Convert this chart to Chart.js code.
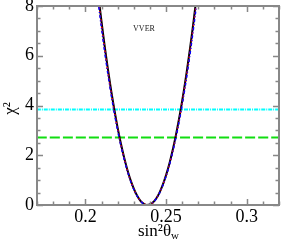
<!DOCTYPE html>
<html>
<head>
<meta charset="utf-8">
<script src="https://cdn.jsdelivr.net/npm/chart.js@4.4.1/dist/chart.umd.min.js"></script>
<style>
  html, body { margin: 0; padding: 0; background: #fff; }
  #wrap { width: 283px; height: 241px; }
</style>
</head>
<body>
<div id="wrap"><canvas id="chart"></canvas></div>
<script>
// values
const sinVals = [0.206, 0.208, 0.210, 0.212, 0.214, 0.216, 0.218, 0.220, 0.222, 0.224, 0.226,
  0.228, 0.230, 0.232, 0.234, 0.236, 0.238, 0.240, 0.242, 0.244, 0.246, 0.248, 0.250,
  0.252, 0.254, 0.256, 0.258, 0.260, 0.262, 0.264, 0.266, 0.268, 0.270];
const chiBlack = [9.58, 8.44, 7.37, 6.37, 5.44, 4.59, 3.81, 3.10, 2.47, 1.91, 1.42, 1.00, 0.66,
  0.38, 0.18, 0.06, 0.00, 0.02, 0.11, 0.27, 0.51, 0.82, 1.20, 1.65, 2.18, 2.78, 3.45, 4.19,
  5.01, 5.90, 6.86, 7.89, 9.00];
const chiRed = [9.39, 8.27, 7.22, 6.24, 5.33, 4.50, 3.73, 3.04, 2.42, 1.87, 1.39, 0.98, 0.64,
  0.37, 0.18, 0.06, 0.00, 0.02, 0.11, 0.27, 0.50, 0.80, 1.18, 1.62, 2.14, 2.72, 3.38, 4.11,
  4.91, 5.78, 6.72, 7.73, 8.82];
const chiBlue = [9.23, 8.13, 7.10, 6.13, 5.24, 4.42, 3.67, 2.99, 2.38, 1.84, 1.37, 0.96, 0.63,
  0.37, 0.18, 0.05, 0.00, 0.02, 0.11, 0.26, 0.49, 0.79, 1.16, 1.59, 2.10, 2.68, 3.32, 4.03,
  4.82, 5.68, 6.61, 7.60, 8.67];
const cl95 = 3.84;
const cl90 = 2.71;

const xTicks = [0.2, 0.25, 0.3];
const yTicks = [0, 2, 4, 6, 8];
const xMin = 0.17, xMax = 0.32, xMinor = 0.01;
const yMin = 0, yMax = 8, yMinor = 0.5;
const label = "VVER";

const pts = ys => sinVals.map((x, i) => ({ x: x, y: ys[i] }));
const flat = v => [{ x: xMin, y: v }, { x: xMax, y: v }];

const serif = '"Liberation Serif", "DejaVu Serif", serif';
const frameColor = "#888";

// frame, inward ticks, titles and the label
const decor = {
  id: "decor",
  afterDraw(chart) {
    const ctx = chart.ctx;
    const a = chart.chartArea;
    const sx = chart.scales.x, sy = chart.scales.y;
    ctx.save();
    ctx.strokeStyle = frameColor;
    ctx.lineWidth = 1.5;
    for (let v = xMin; v <= xMax + 1e-9; v += xMinor) {
      const major = xTicks.some(t => Math.abs(t - v) < 1e-6);
      const len = major ? 6 : 3.5;
      const px = Math.round(sx.getPixelForValue(v)) + 0.5;
      ctx.beginPath();
      ctx.moveTo(px, a.bottom); ctx.lineTo(px, a.bottom - len);
      ctx.moveTo(px, a.top); ctx.lineTo(px, a.top + len);
      ctx.stroke();
    }
    for (let v = yMin; v <= yMax + 1e-9; v += yMinor) {
      const major = yTicks.some(t => Math.abs(t - v) < 1e-6);
      const len = major ? 6 : 3.5;
      const py = Math.round(sy.getPixelForValue(v)) + 0.5;
      ctx.beginPath();
      ctx.moveTo(a.left, py); ctx.lineTo(a.left + len, py);
      ctx.moveTo(a.right, py); ctx.lineTo(a.right - len, py);
      ctx.stroke();
    }
    ctx.lineWidth = 2;
    ctx.strokeRect(a.left, a.top, a.right - a.left, a.bottom - a.top);

    ctx.fillStyle = "#000";
    // x title: sin²θ with subscript w
    ctx.textBaseline = "alphabetic";
    const main = "sin²θ";
    ctx.font = "17px " + serif;
    const wMain = ctx.measureText(main).width;
    ctx.font = "11px " + serif;
    const wSub = ctx.measureText("w").width;
    const cx = (a.left + a.right) / 2 + 0.5;
    const x0 = cx - (wMain + wSub) / 2;
    ctx.font = "17px " + serif;
    ctx.textAlign = "left";
    ctx.fillText(main, x0, 236);
    ctx.font = "11px " + serif;
    ctx.fillText("w", x0 + wMain, 239);

    // y title
    ctx.save();
    ctx.translate(15, (a.top + a.bottom) / 2 + 3);
    ctx.rotate(-Math.PI / 2);
    ctx.textAlign = "center";
    ctx.font = "17px " + serif;
    ctx.fillText("χ²", 0, 0);
    ctx.restore();

    // label
    ctx.font = "8px " + serif;
    ctx.fillStyle = "#222";
    ctx.textAlign = "center";
    ctx.textBaseline = "middle";
    ctx.fillText(label, sx.getPixelForValue(0.2363), sy.getPixelForValue(7.07));
    ctx.restore();
  }
};

new Chart(document.getElementById("chart"), {
  type: "scatter",
  data: {
    datasets: [
      { data: flat(cl95), borderColor: "#00ffff", borderWidth: 2, borderDash: [4, 1, 1, 1], order: 5 },
      { data: flat(cl90), borderColor: "#11dd11", borderWidth: 2, borderDash: [10, 3], order: 4 },
      { data: pts(chiBlack), borderColor: "#000", borderWidth: 2, order: 3 },
      { data: pts(chiRed), borderColor: "#ff0000", borderWidth: 1.5, borderDash: [2, 2], order: 2 },
      { data: pts(chiBlue), borderColor: "#0000ff", borderWidth: 1.5, borderDash: [3, 2, 1, 2], order: 1 }
    ].map(d => Object.assign({ showLine: true, pointRadius: 0, tension: 0.3, fill: false }, d))
  },
  options: {
    responsive: true,
    maintainAspectRatio: false,
    animation: false,
    events: [],
    layout: { padding: { top: 6, right: 4, left: 0, bottom: 0 } },
    plugins: { legend: { display: false }, tooltip: { enabled: false } },
    scales: {
      x: {
        type: "linear", min: xMin, max: xMax,
        grid: { display: false, drawTicks: false },
        border: { display: false },
        afterBuildTicks: s => { s.ticks = xTicks.map(v => ({ value: v })); },
        afterFit: s => { s.height = 36; s.paddingLeft = 0; s.paddingRight = 0; },
        ticks: {
          maxRotation: 0, padding: 1, color: "#000",
          font: { family: serif, size: 18 },
          callback: v => String(v)
        }
      },
      y: {
        type: "linear", min: yMin, max: yMax,
        grid: { display: false, drawTicks: false },
        border: { display: false },
        afterBuildTicks: s => { s.ticks = yTicks.map(v => ({ value: v })); },
        afterFit: s => { s.width = 37; s.paddingTop = 0; s.paddingBottom = 0; },
        ticks: {
          padding: 3, color: "#000",
          font: { family: serif, size: 18 },
          callback: v => String(v)
        }
      }
    }
  },
  plugins: [decor]
});
</script>
</body>
</html>
